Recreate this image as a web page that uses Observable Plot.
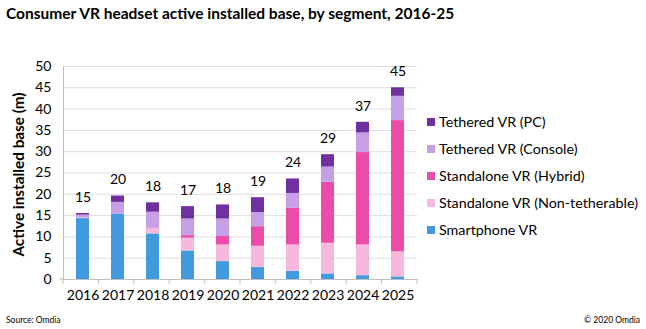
<!DOCTYPE html>
<html>
<head>
<meta charset="utf-8">
<script src="https://cdn.jsdelivr.net/npm/d3@7"></script>
<script src="https://cdn.jsdelivr.net/npm/@observablehq/plot@0.6"></script>
<style>
  html, body { margin: 0; padding: 0; background: #fff; }
  #wrap { position: relative; width: 646px; height: 329px; overflow: hidden; font-family: Lato, "Open Sans", sans-serif; color: #000; }
  #title { position: absolute; left: 6px; top: 4px; font-weight: bold; font-size: 15.5px; white-space: nowrap; }
  #legend { position: absolute; left: 427px; top: 108px; font-size: 14.3px; }
  #legend .row { display: flex; align-items: center; height: 27px; white-space: nowrap; }
  #legend .sw { width: 8px; height: 8px; margin-right: 4px; }
  #source { position: absolute; left: 6px; top: 315px; font-size: 8.5px; }
  #copy { position: absolute; right: 6px; top: 315px; font-size: 8.5px; }
  #chart { position: absolute; left: 0; top: 0; }
</style>
</head>
<body>
<div id="wrap">
  <div id="chart"></div>
  <div id="title"></div>
  <div id="legend"></div>
  <div id="source"></div>
  <div id="copy"></div>
</div>
<script>
const titleText = "Consumer VR headset active installed base, by segment, 2016-25";
const yLabel = "Active installed base (m)";
const sourceText = "Source: Omdia";
const copyText = "© 2020 Omdia";

const years = ["2016", "2017", "2018", "2019", "2020", "2021", "2022", "2023", "2024", "2025"];
const seriesNames = ["Smartphone VR", "Standalone VR (Non-tetherable)", "Standalone VR (Hybrid)", "Tethered VR (Console)", "Tethered VR (PC)"];
const seriesColors = ["#4199de", "#f6b8dc", "#ec4ca9", "#c5a0e6", "#7030a0"];

const smartphone    = [14.3, 15.3, 10.7, 6.7, 4.2, 2.8, 1.9, 1.3, 0.9, 0.6];
const nonTetherable = [0.2, 0.0, 1.3, 3.0, 3.9, 5.0, 6.2, 7.2, 7.2, 5.9];
const hybrid        = [0.0, 0.0, 0.0, 0.6, 2.0, 4.6, 8.6, 14.3, 21.7, 30.8];
const consoleVR     = [0.6, 2.8, 3.8, 3.9, 4.1, 3.3, 3.5, 3.6, 4.6, 5.7];
const pcVR          = [0.4, 1.5, 2.2, 2.9, 3.3, 3.5, 3.4, 2.9, 2.5, 2.0];
const totalLabels   = ["15", "20", "18", "17", "18", "19", "24", "29", "37", "45"];
const yTicks = [0, 5, 10, 15, 20, 25, 30, 35, 40, 45, 50];

const seriesValues = [smartphone, nonTetherable, hybrid, consoleVR, pcVR];
const data = [];
seriesNames.forEach((s, k) => years.forEach((y, i) => data.push({year: y, series: s, value: seriesValues[k][i]})));
const totals = years.map((y, i) => ({year: y, total: d3.sum(seriesValues, v => v[i]), label: totalLabels[i]}));

const W = 646, H = 329;
const plot = Plot.plot({
  width: W, height: H,
  marginLeft: 63, marginRight: 229, marginTop: 66, marginBottom: 50,
  style: {fontFamily: "Lato, 'Open Sans', sans-serif", fontSize: "14px", color: "#000", background: "transparent"},
  x: {domain: years, paddingInner: 0.62, paddingOuter: 0.31, label: null},
  y: {domain: [0, 50], label: null},
  color: {domain: seriesNames, range: seriesColors},
  marks: [
    Plot.gridY(yTicks, {stroke: "#dcdcdc", strokeOpacity: 1}),
    Plot.axisY(yTicks, {tickSize: 0, tickPadding: 12, fontSize: 14, label: null}),
    Plot.axisX({tickSize: 0, tickPadding: 11, fontSize: 14, label: null}),
    Plot.barY(data, {x: "year", y: "value", fill: "series", order: seriesNames}),
    Plot.text(totals, {x: "year", y: "total", text: "label", dy: -16, fontSize: 14}),
    Plot.frame({anchor: "left", stroke: "#bfbfbf"}),
    Plot.frame({anchor: "bottom", stroke: "#bfbfbf"})
  ]
});
document.getElementById("chart").appendChild(plot);

// axis tick marks at category boundaries (Excel style) and y-axis title
const xs = plot.scale("x");
const [r0, r1] = xs.range;
const step = (r1 - r0) / years.length;
const ys = plot.scale("y");
const yBase = ys.range[0];
const svg = d3.select(plot);
const g = svg.append("g").attr("stroke", "#bfbfbf");
for (let k = 0; k <= years.length; k++) {
  g.append("line").attr("x1", r0 + k * step).attr("x2", r0 + k * step).attr("y1", yBase).attr("y2", yBase + 5);
}
g.append("line").attr("x1", r0 - 4).attr("x2", r0).attr("y1", yBase).attr("y2", yBase);
svg.append("text")
  .attr("transform", `translate(20,${(ys.range[0] + ys.range[1]) / 2 + 2}) rotate(-90)`)
  .attr("text-anchor", "middle").attr("dominant-baseline", "middle")
  .attr("font-weight", "bold").attr("font-size", 15.3).attr("fill", "#000")
  .text(yLabel);

document.getElementById("title").textContent = titleText;
document.getElementById("source").textContent = sourceText;
document.getElementById("copy").textContent = copyText;
const legend = document.getElementById("legend");
for (let k = seriesNames.length - 1; k >= 0; k--) {
  const row = document.createElement("div");
  row.className = "row";
  const sw = document.createElement("span");
  sw.className = "sw";
  sw.style.background = seriesColors[k];
  const t = document.createElement("span");
  t.textContent = seriesNames[k];
  row.appendChild(sw); row.appendChild(t);
  legend.appendChild(row);
}
</script>
</body>
</html>
